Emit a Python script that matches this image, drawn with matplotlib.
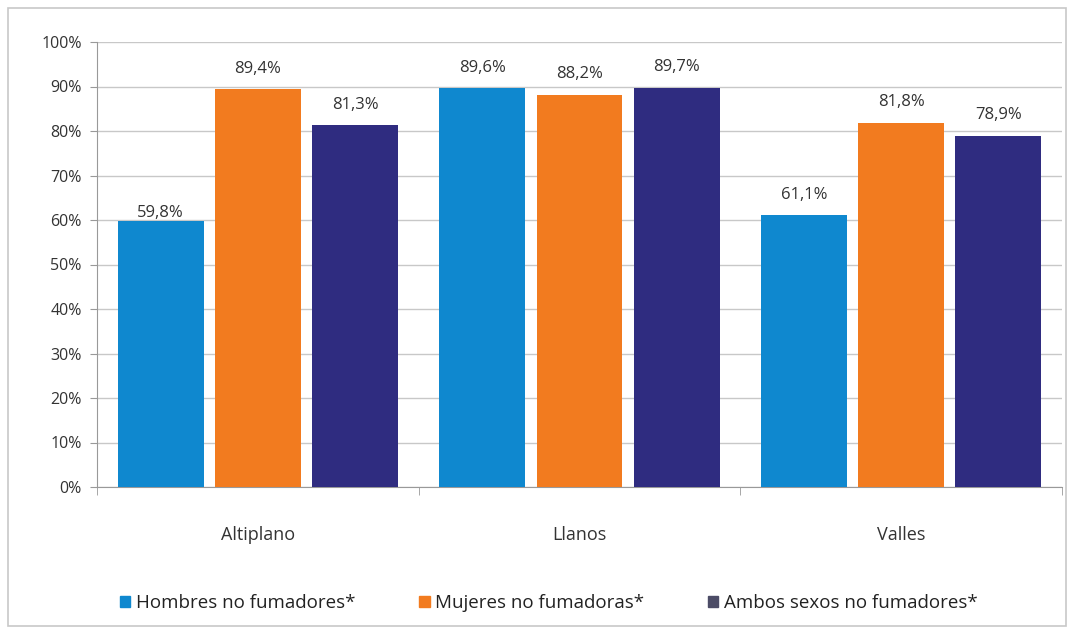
import matplotlib
matplotlib.use("Agg")
import matplotlib.pyplot as plt
from matplotlib.patches import Rectangle, Patch
import numpy as np

plt.rcParams['font.family'] = ['Open Sans', 'DejaVu Sans']

categories = ["Altiplano", "Llanos", "Valles"]
series_names = ["Hombres no fumadores*", "Mujeres no fumadoras*", "Ambos sexos no fumadores*"]
hombres = [59.8, 89.6, 61.1]
mujeres = [89.4, 88.2, 81.8]
ambos = [81.3, 89.7, 78.9]
yticks = [0, 10, 20, 30, 40, 50, 60, 70, 80, 90, 100]

colors = ["#0F88CF", "#F27B1F", "#2F2C80"]
legend_colors = ["#0F88CF", "#F27B1F", "#4C4C66"]

fig = plt.figure(figsize=(10.74, 6.34), dpi=100)
fig.patches.append(Rectangle((8/1074, 8/634), 1058/1074, 618/634, transform=fig.transFigure,
                             fill=False, edgecolor="#c8c8c8", linewidth=1.2))
ax = fig.add_axes([97/1074, 1-487/634, (1062-97)/1074, (487-42)/634])

x = np.arange(len(categories))
w = 0.267
step = 0.302
for i, vals in enumerate([hombres, mujeres, ambos]):
    pos = x + (i-1)*step
    ax.bar(pos, vals, width=w, color=colors[i], zorder=3)
    for p, v in zip(pos, vals):
        ax.annotate(f"{v:.1f}%".replace(".", ","), (p, v), xytext=(0, 0 if v < 60 else 9),
                    textcoords="offset points", ha="center", va="bottom",
                    fontsize=12, color="#333333")

ax.set_xlim(-0.5, 2.5)
ax.set_ylim(0, 100)
ax.set_yticks(yticks)
ax.set_yticklabels([f"{t}%" for t in yticks], fontsize=11.5, color="#333333")
ax.yaxis.grid(True, color="#c8c8c8", linewidth=1, zorder=0)
ax.set_xticks(x)
ax.set_xticklabels(categories, fontsize=13, color="#333333")
ax.tick_params(axis="x", length=0, pad=28)
ax.tick_params(axis="y", length=5, color="#999999", pad=6)
ax.set_xticks([-0.5, 0.5, 1.5, 2.5], minor=True)
ax.tick_params(axis="x", which="minor", length=6, color="#999999")
for s in ["top", "right"]:
    ax.spines[s].set_visible(False)
ax.spines["left"].set_color("#999999")
ax.spines["bottom"].set_color("#999999")

handles = [Patch(color=c) for c in legend_colors]
fig.legend(handles, series_names, loc="center", bbox_to_anchor=(549/1074, 1-603/634),
           ncol=3, frameon=False, fontsize=13.5, handlelength=0.55, handleheight=0.55,
           handletextpad=0.3, columnspacing=3.4, labelcolor="#222222")

fig.savefig("out.png", dpi=100)
